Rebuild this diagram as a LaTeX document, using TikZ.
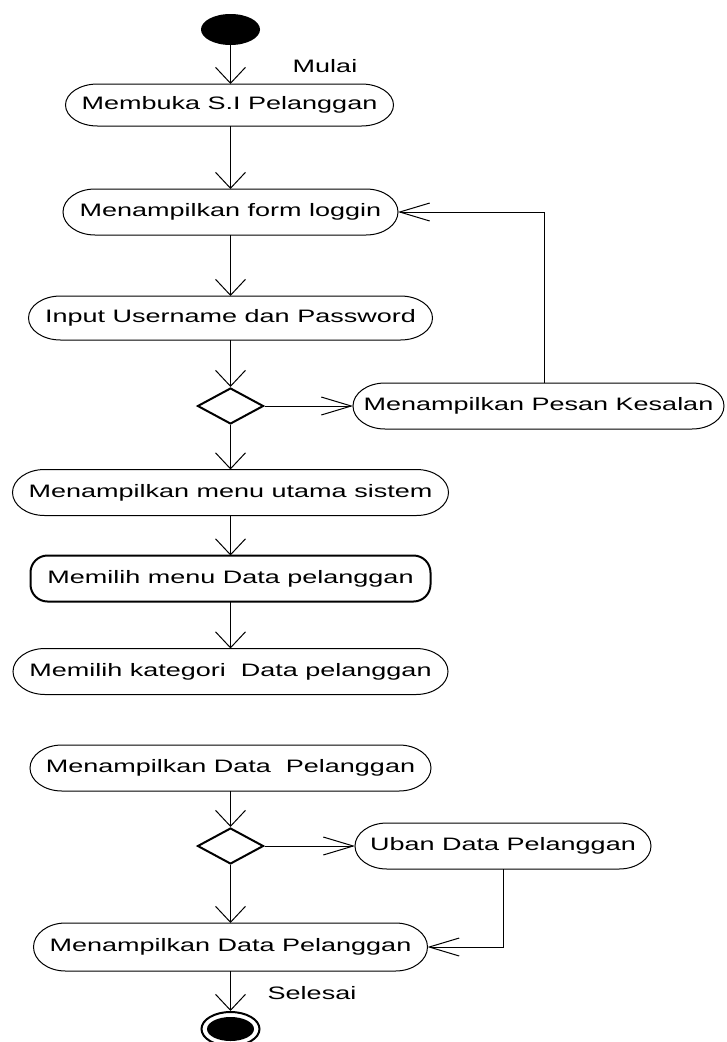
\documentclass[tikz,border=0pt]{standalone}
\usepackage{fontspec}
\setmainfont{Liberation Sans}[FakeStretch=1.5]
\usetikzlibrary{arrows.meta,shapes.geometric}

% outline of an activity: straight top and bottom, half-ellipse ends
% #1 line width, #2 node name, #3 half height (pt)
\newcommand\pilloutline[3][1pt]{%
  \draw[line width=#1] ([xshift=32pt]#2.north west) -- ([xshift=-32pt]#2.north east)
    arc[start angle=90,end angle=-90,x radius=32pt,y radius=#3pt]
    -- ([xshift=32pt]#2.south west)
    arc[start angle=270,end angle=90,x radius=32pt,y radius=#3pt] -- cycle;}

\begin{document}
\begin{tikzpicture}[x=1pt,y=1pt,
  txt/.style={font=\fontsize{18}{21}\selectfont},
  act/.style={txt, inner sep=0pt, outer sep=0pt, minimum height=46pt},
  dec/.style={draw, shape=diamond, line width=2pt, inner sep=0pt,
              minimum width=66pt, minimum height=36pt},
  vflow/.style={line width=1pt, -{Straight Barb[length=16pt,width=30pt,line width=1pt]}},
  hflow/.style={line width=1pt, -{Straight Barb[length=30pt,width=18pt,line width=1pt]}}]

\useasboundingbox (0,0) rectangle (726,-1042);

% start and end markers
\node[fill, ellipse, minimum width=59pt, minimum height=31pt, inner sep=0pt] (start) at (230.5,-29.5) {};
\node[draw, ellipse, line width=2pt, minimum width=58pt, minimum height=34pt, inner sep=0pt] (end) at (230.5,-1029) {};
\node[fill, ellipse, minimum width=47pt, minimum height=24pt, inner sep=0pt] at (end) {};

% activities
\node[act, minimum width=328pt, minimum height=42pt] (n1) at (229.5,-105) {Membuka S.I Pelanggan};
\node[act, minimum width=335pt] (n2) at (230.5,-212) {Menampilkan form loggin};
\node[act, minimum width=404pt, minimum height=44pt] (n3) at (230.5,-318) {Input Username dan Password};
\node[dec] (d1) at (230.5,-406) {};
\node[act, minimum width=371pt] (err) at (538.5,-406) {Menampilkan Pesan Kesalan};
\node[act, minimum width=436pt] (n4) at (230.5,-492.5) {Menampilkan menu utama sistem};
\node[act, draw, line width=2pt, rounded corners=17pt, minimum width=400pt] (n5) at (230.5,-578.5) {Memilih menu Data pelanggan};
\node[act, minimum width=435pt] (n6) at (230.5,-671.5) {Memilih kategori~ Data pelanggan};
\node[act, minimum width=401pt] (n7) at (230.5,-768) {Menampilkan Data~ Pelanggan};
\node[dec] (d2) at (230.5,-846) {};
\node[act, minimum width=296pt] (edit) at (503,-846) {Uban Data Pelanggan};
\node[act, minimum width=394pt, minimum height=48pt] (n8) at (230.5,-947) {Menampilkan Data Pelanggan};

\pilloutline{n1}{21}
\pilloutline{n2}{23}
\pilloutline{n3}{22}
\pilloutline{err}{23}
\pilloutline{n4}{23}
\pilloutline{n6}{23}
\pilloutline{n7}{23}
\pilloutline{edit}{23}
\pilloutline{n8}{24}

% labels
\node[txt] (lstart) at (325,-66) {Mulai};
\node[txt] (lend) at (312,-993) {Selesai};

% flows
\draw[vflow] (start) -- (start |- n1.north);
\draw[vflow] (n1.south -| start) -- (n2);
\draw[vflow] (n2) -- (n3);
\draw[vflow] (n3) -- (d1);
\draw[hflow] (d1) -- (err);
\draw[hflow] ([xshift=5.5pt]err.north) |- (n2.east);
\draw[vflow] (d1) -- (n4);
\draw[vflow] (n4) -- (n5);
\draw[vflow] (n5) -- (n6);
\draw[vflow] (n7) -- (d2);
\draw[hflow] (d2) -- (edit);
\draw[hflow] (edit.south) |- (n8.east);
\draw[vflow] (d2) -- (n8);
\draw[vflow] (n8) -- (end);
\end{tikzpicture}
\end{document}
